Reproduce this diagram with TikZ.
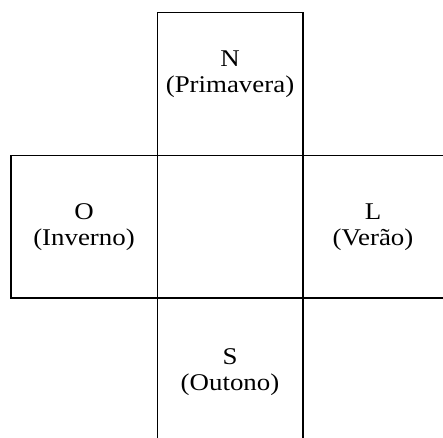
\documentclass[tikz,border=0pt]{standalone}
\usepackage{fontspec}
\setmainfont{Liberation Serif}
\newfontfamily\widetimes[FakeStretch=1.12]{Liberation Serif}
\tikzset{
  cell/.style={draw=black,line width=1.3pt},
  season/.style={align=center,inner sep=0pt,
    font=\widetimes\fontsize{24}{26}\selectfont}
}

\begin{document}
\begin{tikzpicture}[x=1pt,y=-1pt]
  \useasboundingbox (0,0) rectangle (443,437);
  \clip (0,0) rectangle (443,437);
  % the five cells of the cross
  \draw[cell] (157.5,12.5) rectangle (303,155.7);
  \draw[cell] (11,155.7) rectangle (157.5,298);
  \draw[cell] (157.5,155.7) rectangle (303,298);
  \draw[cell] (303,155.7) rectangle (449,298);
  \draw[cell] (157.5,298) rectangle (303,443);
  % compass points and seasons
  \node[season] (norte) at (230,74) {N\\(Primavera)};
  \node[season] (oeste) at (84,227) {O\\(Inverno)};
  \node[season] (leste) at (373,227) {L\\(Verão)};
  \node[season] (sul) at (230,372) {S\\(Outono)};
\end{tikzpicture}
\end{document}
